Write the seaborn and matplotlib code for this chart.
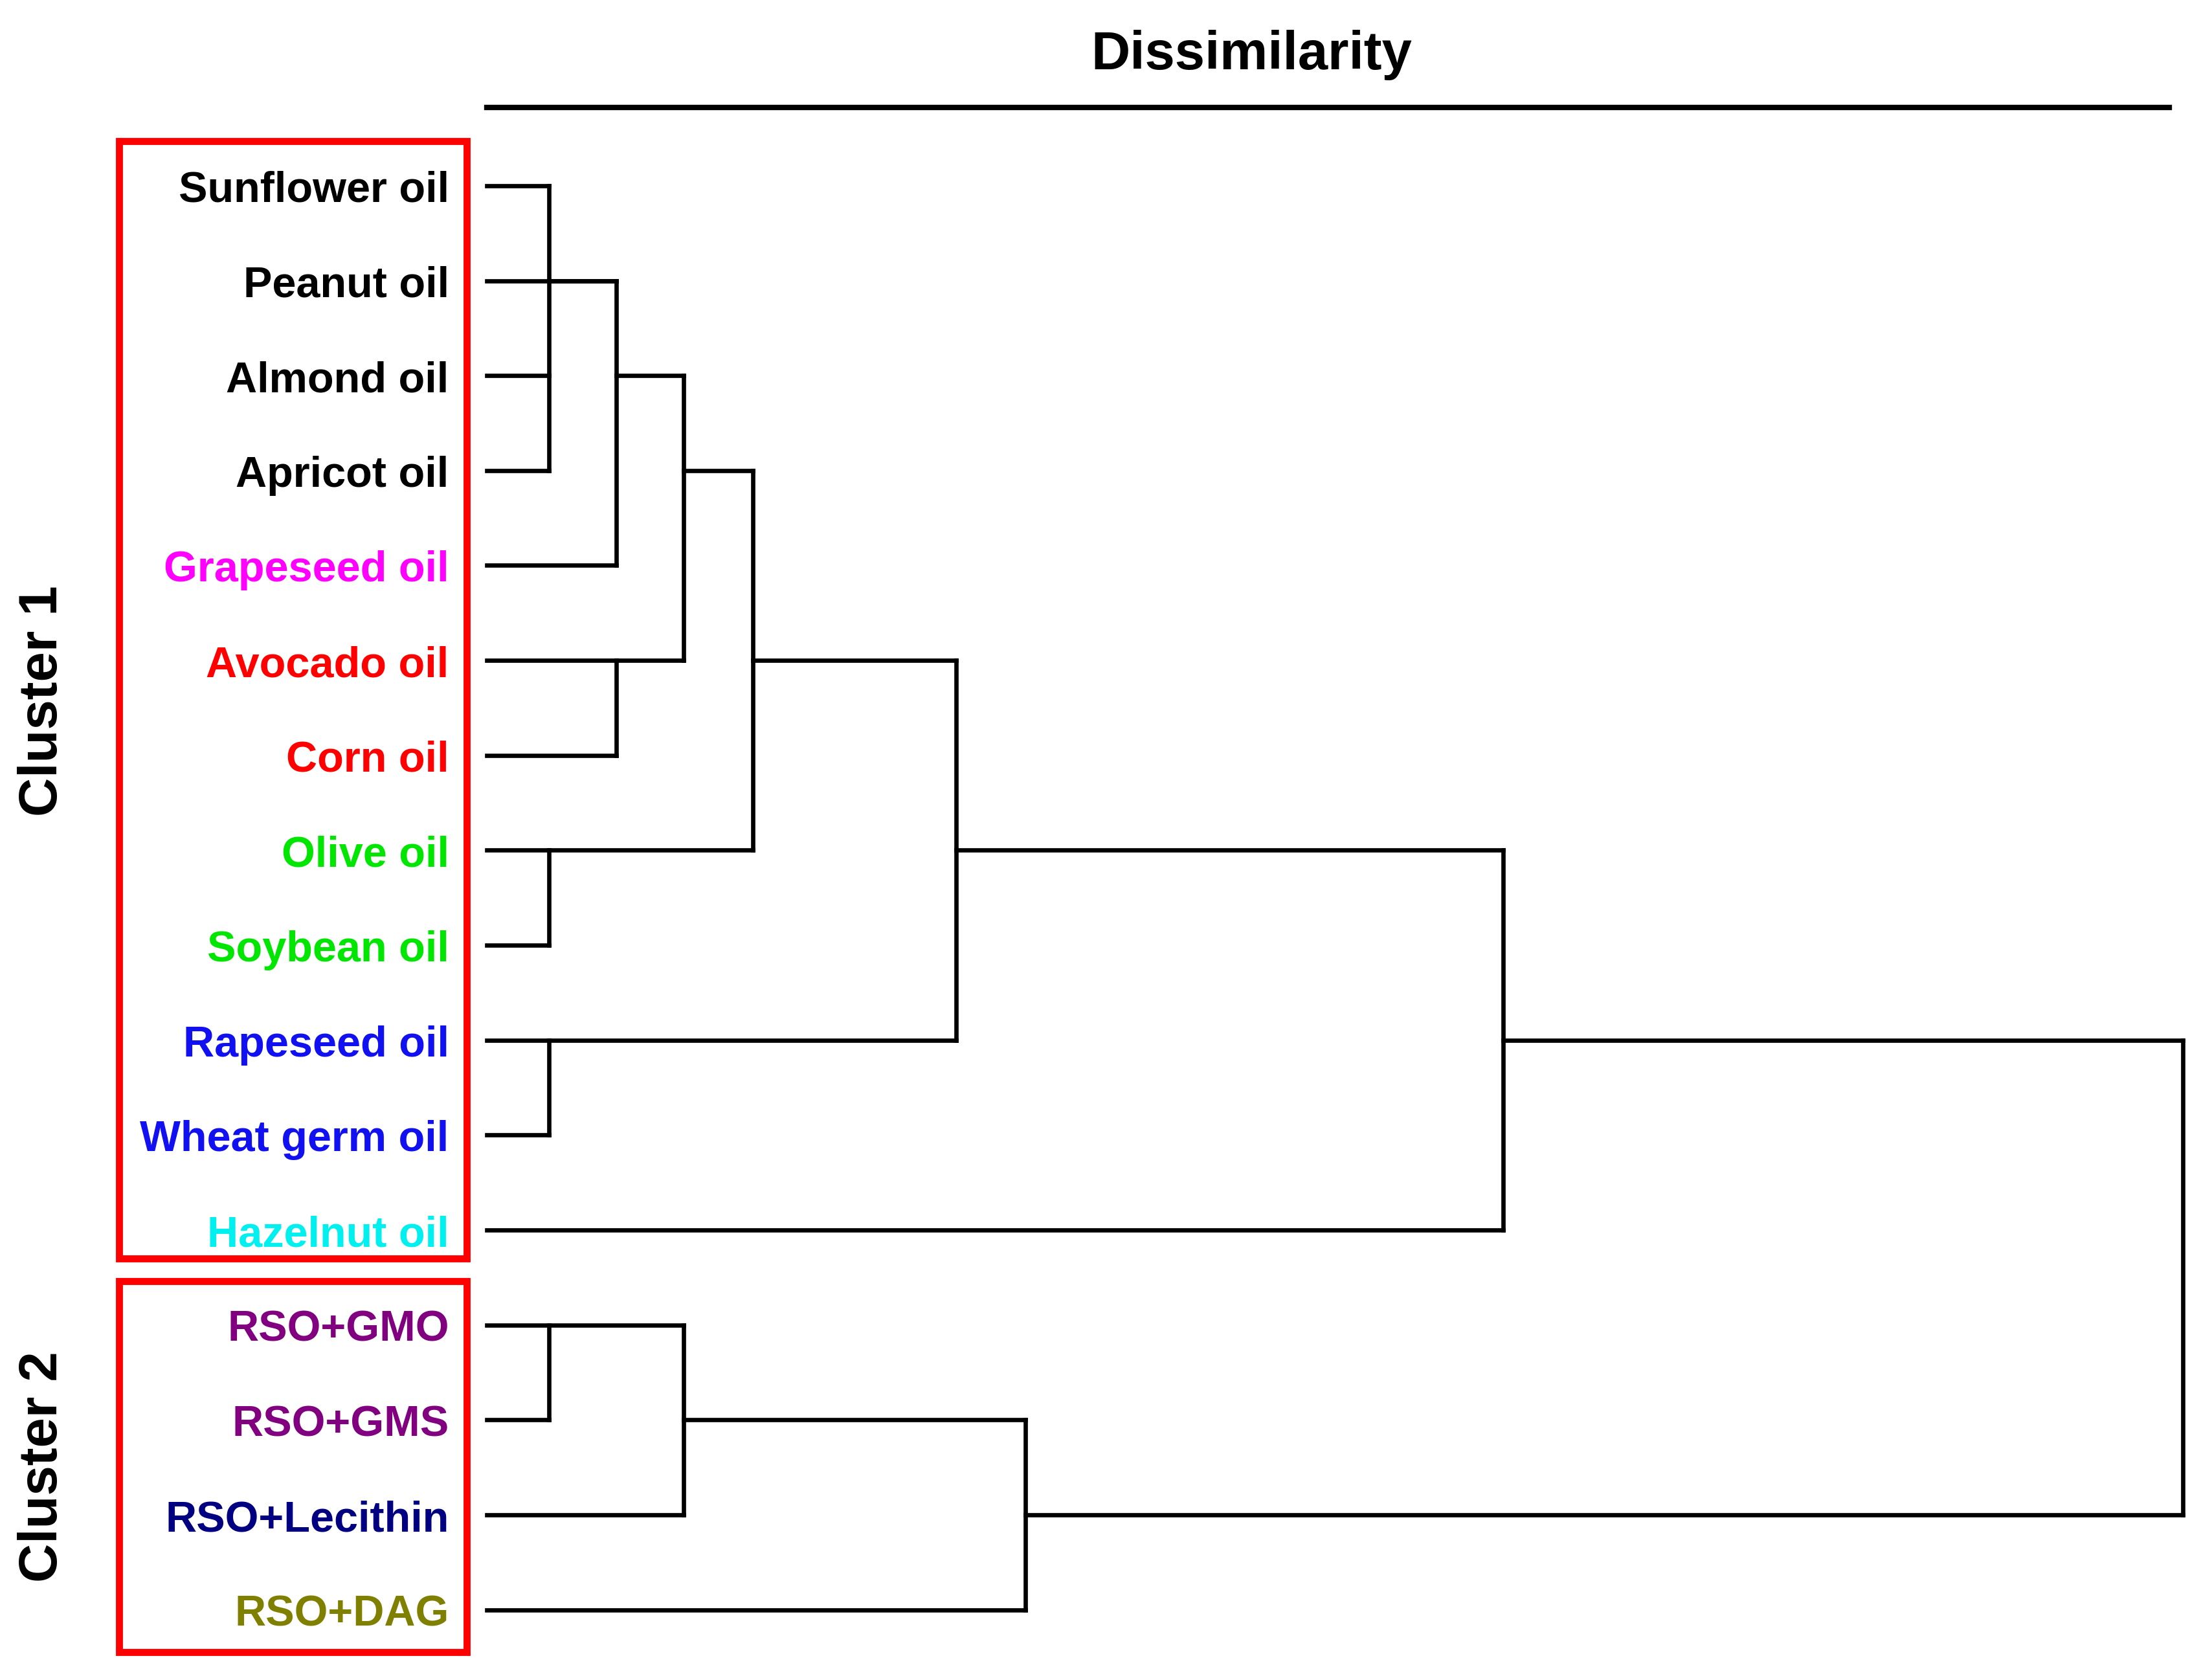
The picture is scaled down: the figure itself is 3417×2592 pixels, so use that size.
import numpy as np
import pandas as pd
import matplotlib
matplotlib.use("Agg")
import matplotlib.pyplot as plt
from matplotlib.patches import Rectangle
import seaborn as sns

# Leaves, top to bottom
labels = ["Sunflower oil", "Peanut oil", "Almond oil", "Apricot oil",
          "Grapeseed oil", "Avocado oil", "Corn oil", "Olive oil",
          "Soybean oil", "Rapeseed oil", "Wheat germ oil", "Hazelnut oil",
          "RSO+GMO", "RSO+GMS", "RSO+Lecithin", "RSO+DAG"]
label_colors = ["#000000", "#000000", "#000000", "#000000",
                "#FF00FF", "#FF0000", "#FF0000", "#00E600",
                "#00E600", "#1010F0", "#1010F0", "#00F0F0",
                "#800080", "#800080", "#000080", "#808000"]

# Linkage (nodes 16.. are created in this order)
merge_left = [2, 0, 17, 18, 5, 19, 7, 21, 9, 23, 25, 12, 27, 28, 26]
merge_right = [3, 16, 1, 4, 6, 20, 8, 22, 10, 24, 11, 13, 14, 15, 29]
merge_height = [0.037, 0.037, 0.077, 0.077, 0.077, 0.117, 0.037, 0.158,
                0.037, 0.279, 0.604, 0.037, 0.117, 0.320, 1.008]

# Build the dendrogram segments from the linkage
n = len(labels)
node_h = {i: 0.0 for i in range(n)}
node_row = {i: i for i in range(n)}
rows = []
seg = 0
for k, (a, b, h) in enumerate(zip(merge_left, merge_right, merge_height)):
    for c in (a, b):
        rows.append((seg, node_h[c], node_row[c]))
        rows.append((seg, h, node_row[c]))
        seg += 1
    rows.append((seg, h, node_row[a]))
    rows.append((seg, h, node_row[b]))
    seg += 1
    new = n + k
    node_h[new] = h
    node_row[new] = (node_row[a] + node_row[b]) // 2
segs = pd.DataFrame(rows, columns=["seg", "x", "y"])

sns.set_style("white")
plt.rcParams["font.family"] = ["Liberation Sans", "DejaVu Sans"]
plt.rcParams["text.color"] = "black"

fig = plt.figure(figsize=(11.39, 8.6433), dpi=300)
ax = fig.add_axes([0.22008, 0.01234, 0.76061, 0.9233])

sns.lineplot(data=segs, x="x", y="y", units="seg", estimator=None, sort=False,
             color="black", linewidth=1.6, ax=ax)
for ln in ax.lines:
    ln.set_clip_on(False)
    ln.set_solid_capstyle("projecting")

ax.set_xlim(0, 1)
ax.set_ylim(15.5, -0.825)
ax.set_xlabel("")
ax.set_ylabel("")
ax.set_xticks([])
ax.set_yticks(range(n))
ax.set_yticklabels(labels, fontsize=16, fontweight="bold")
for t, c in zip(ax.get_yticklabels(), label_colors):
    t.set_color(c)
ax.tick_params(axis="y", length=0, pad=14)
for s in ["left", "right", "bottom"]:
    ax.spines[s].set_visible(False)
ax.spines["top"].set_linewidth(2)
ax.spines["top"].set_color("black")

fig.text(0.5657, 0.95874, "Dissimilarity", fontsize=20, fontweight="bold",
         color="black", ha="center", va="baseline")

# cluster boxes
fig.patches.append(Rectangle((0.05385, 0.2499), 0.2110 - 0.05385, 0.91554 - 0.2499,
                             transform=fig.transFigure, fill=False,
                             edgecolor="#FF0000", linewidth=2.6))
fig.patches.append(Rectangle((0.05385, 0.01543), 0.2110 - 0.05385, 0.23641 - 0.01543,
                             transform=fig.transFigure, fill=False,
                             edgecolor="#FF0000", linewidth=2.6))
fig.text(0.01932, 0.58234, "Cluster 1", rotation=90, fontsize=20,
         fontweight="bold", color="black", ha="center", va="center")
fig.text(0.01932, 0.1261, "Cluster 2", rotation=90, fontsize=20,
         fontweight="bold", color="black", ha="center", va="center")

fig.savefig("out.png", dpi=300)
